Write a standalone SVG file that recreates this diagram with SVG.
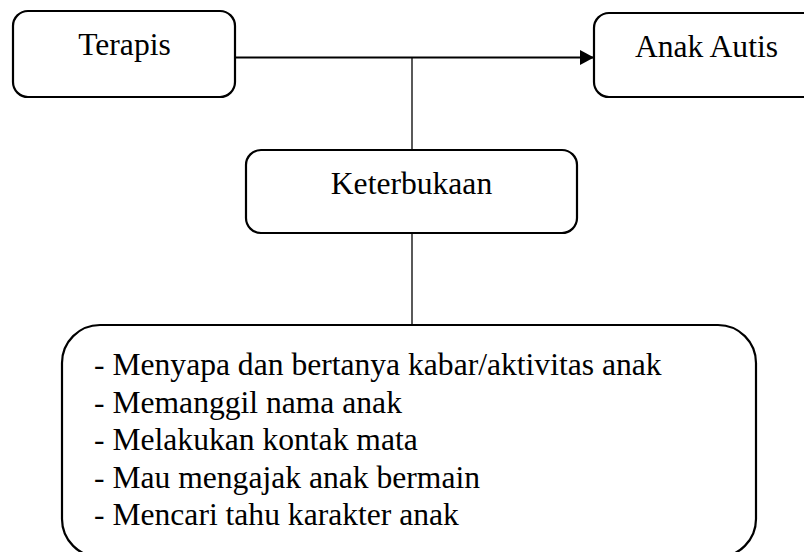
<svg xmlns="http://www.w3.org/2000/svg" width="804" height="552" viewBox="0 0 804 552">
  <style>
    .box { fill: #ffffff; stroke: #000000; stroke-width: 2.2; }
    .lbl { font-family: "Liberation Serif", "Times New Roman", serif; font-size: 31.6px; fill: #000000; }
    .conn { stroke: #000000; fill: none; }
  </style>
  <defs>
    <marker id="arrow" markerWidth="14" markerHeight="15" refX="14" refY="7.5" orient="auto" markerUnits="userSpaceOnUse">
      <path d="M0,0 L14,7.5 L0,15 Z" fill="#000000"/>
    </marker>
  </defs>
  <rect width="804" height="552" fill="#ffffff"/>
  <g id="connectors">
    <line class="conn" x1="235" y1="57.5" x2="594" y2="57.5" stroke-width="2.2" marker-end="url(#arrow)"/>
    <line class="conn" x1="412" y1="57.5" x2="412" y2="150" stroke-width="1.3"/>
    <line class="conn" x1="412" y1="233" x2="412" y2="325" stroke-width="1.3"/>
  </g>
  <g id="terapis">
    <rect class="box" x="13" y="11" width="222" height="86" rx="15" ry="15"/>
    <text class="lbl" x="124.5" y="55" text-anchor="middle">Terapis</text>
  </g>
  <g id="anak-autis">
    <rect class="box" x="594" y="13" width="226" height="84" rx="15" ry="15"/>
    <text class="lbl" x="706.5" y="57" text-anchor="middle">Anak Autis</text>
  </g>
  <g id="keterbukaan">
    <rect class="box" x="246" y="150" width="331" height="83" rx="15" ry="15"/>
    <text class="lbl" x="411.5" y="194" text-anchor="middle">Keterbukaan</text>
  </g>
  <g id="aktivitas">
    <rect class="box" x="62" y="325" width="694" height="232" rx="38" ry="38"/>
    <text class="lbl" x="94" y="375">- Menyapa dan bertanya kabar/aktivitas anak</text>
    <text class="lbl" x="94" y="412.5">- Memanggil nama anak</text>
    <text class="lbl" x="94" y="450">- Melakukan kontak mata</text>
    <text class="lbl" x="94" y="487.5">- Mau mengajak anak bermain</text>
    <text class="lbl" x="94" y="525">- Mencari tahu karakter anak</text>
  </g>
</svg>
